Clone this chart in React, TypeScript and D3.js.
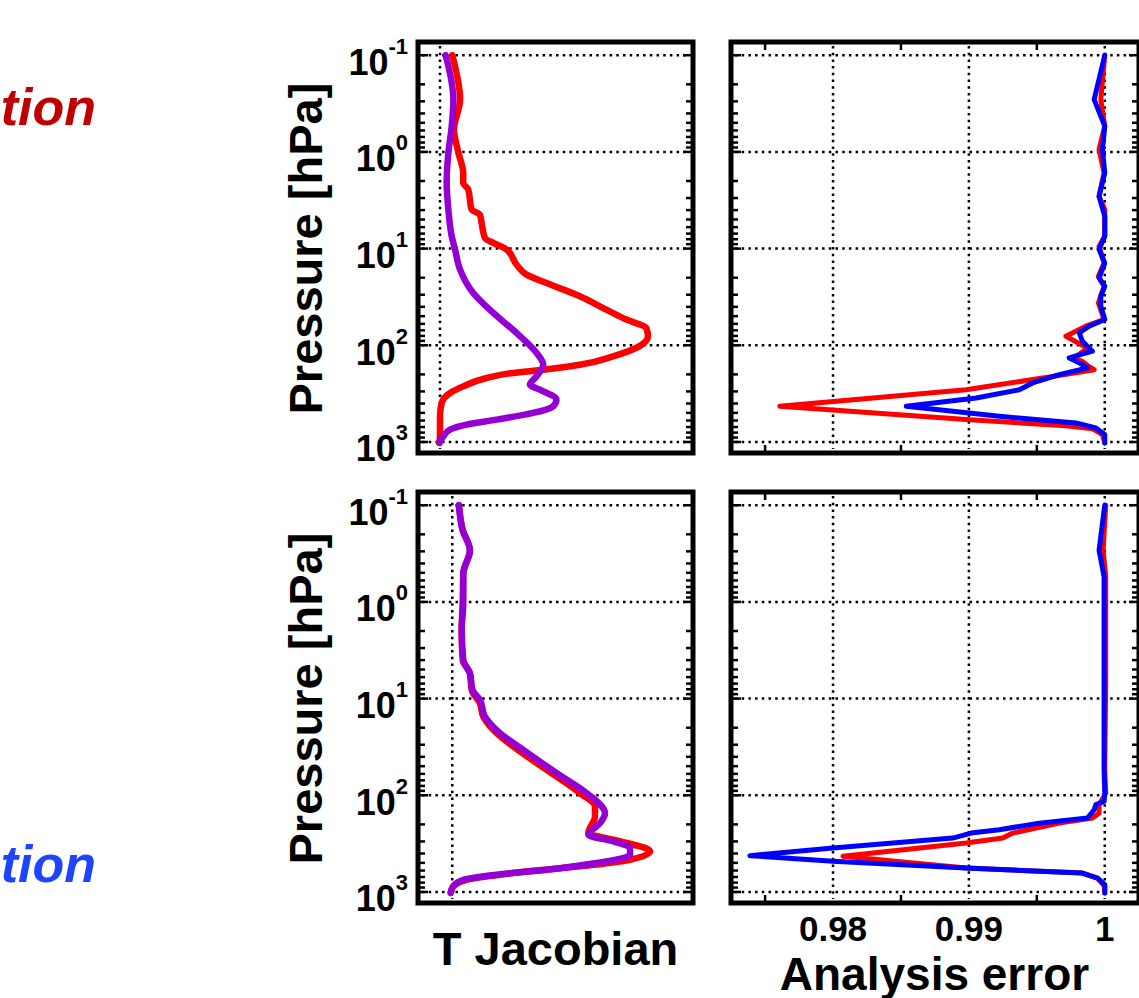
import React from 'react';
import * as d3 from 'd3';

// ---------- DATA ----------
// Top-left: T Jacobian (normalized), pressure in hPa
const jacTopRedP = [0.1, 0.288, 0.587, 1.02, 1.65, 2.09, 2.45, 3.95, 4.45, 5.42, 7.76, 8.74, 10.2, 14.6, 18.6, 22.7, 31.1, 42.8, 54.2, 66.2, 80.7, 102, 130, 159, 179, 193, 218, 266, 311, 395, 542, 839, 1020];
const jacTopRedV = [0.059, 0.096, 0.067, 0.088, 0.111, 0.111, 0.135, 0.151, 0.191, 0.199, 0.215, 0.255, 0.318, 0.366, 0.414, 0.51, 0.669, 0.796, 0.892, 0.987, 0.995, 0.955, 0.828, 0.669, 0.494, 0.35, 0.223, 0.111, 0.048, 0.008, 0.0, 0.0, -0.003];
const jacTopPurpleP = [0.1, 0.288, 0.542, 1.02, 2.09, 3.95, 7.45, 10.2, 16.5, 28.8, 46.3, 74.5, 120, 159, 209, 255, 288, 365, 428, 501, 587, 662, 745, 874, 1023];
const jacTopPurpleV = [0.027, 0.064, 0.056, 0.04, 0.032, 0.04, 0.056, 0.072, 0.096, 0.159, 0.255, 0.366, 0.462, 0.494, 0.462, 0.43, 0.478, 0.557, 0.541, 0.446, 0.271, 0.127, 0.048, 0.016, -0.003];

// Top-right: analysis error
const errTopRedP = [0.1, 0.288, 0.542, 0.946, 1.65, 2.88, 3.95, 7.45, 9.46, 14.1, 19.3, 24.5, 36.5, 54.2, 63.5, 80.7, 107, 135, 147, 162, 179, 213, 288, 428, 587, 678, 728, 839, 1023];
const errTopRedV = [1.0, 0.99971, 1.0, 0.99958, 0.99995, 0.99958, 1.0, 1.0, 0.99958, 0.99995, 0.99953, 0.99995, 0.99953, 0.99995, 0.9986, 0.99714, 0.99873, 0.99775, 0.99836, 0.99873, 0.99922, 0.99591, 0.98979, 0.97608, 0.98979, 0.99714, 0.99909, 0.99983, 1.0];
const errTopBlueP = [0.1, 0.288, 0.542, 0.946, 1.65, 2.88, 4.63, 7.45, 10.2, 14.1, 20.1, 24.5, 31.1, 39.5, 54.2, 63.5, 74.5, 91, 115, 135, 152, 171, 201, 245, 288, 351, 428, 542, 635, 716, 839, 1023];
const errTopBlueV = [1.0, 0.99922, 1.0, 0.99983, 1.0, 0.99958, 1.0, 1.0, 0.99958, 1.0, 0.99958, 1.0, 0.99971, 0.99971, 1.0, 0.99885, 0.99812, 0.99836, 0.99909, 0.99738, 0.99812, 0.99873, 0.99665, 0.99469, 0.99371, 0.99053, 0.98539, 0.99224, 0.99787, 0.99934, 1.0, 1.0];

// Bottom-left: T Jacobian
const jacBotRedP = [0.1, 0.181, 0.292, 0.508, 1.0, 1.95, 3.99, 5.47, 8.14, 11.2, 15.4, 21.1, 31.3, 54.6, 95, 130, 165, 246, 288, 380, 464, 543, 637, 747, 874, 1023];
const jacBotRedV = [0.033, 0.052, 0.088, 0.055, 0.052, 0.047, 0.052, 0.088, 0.097, 0.138, 0.155, 0.205, 0.304, 0.471, 0.637, 0.712, 0.712, 0.679, 0.804, 0.987, 0.887, 0.637, 0.304, 0.072, 0.005, -0.008];
const jacBotPurpleP = [0.1, 0.181, 0.292, 0.508, 1.0, 1.95, 3.99, 5.47, 8.14, 10.3, 15.4, 22.8, 33.9, 59, 95, 153, 194, 256, 300, 351, 411, 502, 588, 662, 747, 874, 1023];
const jacBotPurpleV = [0.033, 0.052, 0.088, 0.055, 0.055, 0.047, 0.055, 0.088, 0.101, 0.138, 0.163, 0.238, 0.354, 0.521, 0.671, 0.762, 0.737, 0.679, 0.804, 0.887, 0.887, 0.72, 0.471, 0.221, 0.055, 0.005, -0.008];

// Bottom-right: analysis error
const errBotRedP = [0.1, 0.292, 0.549, 6.41, 54.6, 95, 125, 153, 172, 194, 246, 277, 312, 428, 565, 637, 717, 874, 1023];
const errBotRedV = [1.00007, 0.99988, 1.00007, 1.00007, 1.0, 1.00007, 0.99958, 0.99958, 0.99909, 0.99665, 0.99322, 0.99249, 0.98979, 0.98073, 0.98979, 0.99836, 0.99946, 1.0, 1.0];
const errBotBlueP = [0.1, 0.292, 0.549, 6.41, 54.6, 95, 116, 125, 141, 172, 194, 227, 246, 277, 351, 421, 482, 565, 637, 717, 839, 1023];
const errBotBlueV = [1.0, 0.99958, 0.99995, 0.99995, 0.99995, 1.0, 0.99995, 0.99934, 0.99922, 0.99873, 0.99518, 0.99224, 0.99016, 0.98881, 0.98, 0.97388, 0.98, 0.98979, 0.99836, 0.99946, 1.0, 1.0];

const pressureTicks = [0.1, 1, 10, 100, 1000];
const pressureTickExp = ['-1', '0', '1', '2', '3'];
const errorTicks = [0.98, 0.99, 1.0];
const errorTickLabels = ['0.98', '0.99', '1'];
const errorMinorTicks = [0.975, 0.985, 0.995];

const sideLabels = ['tion', 'tion'];
const sideColors = ['#c00000', '#1f44ff'];

// ---------- LAYOUT ----------
const W = 1139;
const H = 998;
const FONT = '"Liberation Sans", Arial, Helvetica, sans-serif';
const rows = [{ top: 42, bottom: 453 }, { top: 492, bottom: 903 }];
const leftX = { l: 418, r: 693 };
const rightX = { l: 731, r: 1139 };
const pDomain: [number, number] = [0.073, 1300];
const leftDomains: [number, number][] = [[-0.1053, 1.2105], [-0.171, 1.201]];
const rightDomain: [number, number] = [0.97249, 1.00252];

const RED = '#ff0000';
const PURPLE = '#9400d3';
const BLUE = '#0000ff';

type Series = { p: number[]; v: number[]; color: string; width: number; smooth: boolean };

const leftSeries: Series[][] = [
  [
    { p: jacTopRedP, v: jacTopRedV, color: RED, width: 6.5, smooth: true },
    { p: jacTopPurpleP, v: jacTopPurpleV, color: PURPLE, width: 6.5, smooth: true },
  ],
  [
    { p: jacBotRedP, v: jacBotRedV, color: RED, width: 6.5, smooth: true },
    { p: jacBotPurpleP, v: jacBotPurpleV, color: PURPLE, width: 6.5, smooth: true },
  ],
];
const rightSeries: Series[][] = [
  [
    { p: errTopRedP, v: errTopRedV, color: RED, width: 5, smooth: false },
    { p: errTopBlueP, v: errTopBlueV, color: BLUE, width: 5, smooth: false },
  ],
  [
    { p: errBotRedP, v: errBotRedV, color: RED, width: 5, smooth: false },
    { p: errBotBlueP, v: errBotBlueV, color: BLUE, width: 5, smooth: false },
  ],
];

const minorPressures: number[] = [];
for (let e = -1; e < 3; e++) {
  for (let m = 2; m <= 9; m++) minorPressures.push(m * Math.pow(10, e));
}

function Panel({
  x0, x1, yTop, yBot, xDomain, series, vGrid, xMinor,
}: {
  x0: number; x1: number; yTop: number; yBot: number; xDomain: [number, number];
  series: Series[]; vGrid: number[]; xMinor: number[];
}) {
  const x = d3.scaleLinear().domain(xDomain).range([x0, x1]);
  const y = d3.scaleLog().domain(pDomain).range([yTop, yBot]);
  const dots = '2.5 4.2';
  return (
    <g>
      {pressureTicks.map((p) => (
        <line key={'hg' + p} x1={x0 + 4} x2={x1 - 4} y1={y(p)} y2={y(p)} stroke="#000" strokeWidth={2.5} strokeDasharray={dots} />
      ))}
      {vGrid.map((v) => (
        <line key={'vg' + v} x1={x(v)} x2={x(v)} y1={yTop + 4} y2={yBot - 4} stroke="#000" strokeWidth={2.5} strokeDasharray={dots} />
      ))}
      {minorPressures.map((p) => (
        <g key={'mt' + p}>
          <line x1={x0} x2={x0 + 7} y1={y(p)} y2={y(p)} stroke="#000" strokeWidth={2.5} />
          <line x1={x1 - 7} x2={x1} y1={y(p)} y2={y(p)} stroke="#000" strokeWidth={2.5} />
        </g>
      ))}
      {pressureTicks.map((p) => (
        <g key={'Mt' + p}>
          <line x1={x0} x2={x0 + 10} y1={y(p)} y2={y(p)} stroke="#000" strokeWidth={2.5} />
          <line x1={x1 - 10} x2={x1} y1={y(p)} y2={y(p)} stroke="#000" strokeWidth={2.5} />
        </g>
      ))}
      {xMinor.map((v) => (
        <g key={'xt' + v}>
          <line x1={x(v)} x2={x(v)} y1={yTop} y2={yTop + 8} stroke="#000" strokeWidth={2.5} />
          <line x1={x(v)} x2={x(v)} y1={yBot - 8} y2={yBot} stroke="#000" strokeWidth={2.5} />
        </g>
      ))}
      {series.map((s, i) => {
        const line = d3
          .line<[number, number]>()
          .x((d) => x(d[1]))
          .y((d) => y(d[0]))
          .curve(s.smooth ? d3.curveMonotoneY : d3.curveLinear);
        return (
          <path
            key={'s' + i}
            d={line(s.p.map((p, j) => [p, s.v[j]] as [number, number])) || ''}
            fill="none"
            stroke={s.color}
            strokeWidth={s.width}
            strokeLinejoin="round"
            strokeLinecap="round"
          />
        );
      })}
      <rect x={x0} y={yTop} width={x1 - x0} height={yBot - yTop} fill="none" stroke="#000" strokeWidth={5} />
    </g>
  );
}

export default function App() {
  return (
    <svg
      width={W}
      height={H}
      viewBox={`0 0 ${W} ${H}`}
      style={{ position: 'absolute', left: 0, top: 0, background: '#fff' }}
      fontFamily={FONT}
    >
      <rect x={0} y={0} width={W} height={H} fill="#fff" />
      {sideLabels.map((t, i) => (
        <text
          key={'side' + i}
          x={96}
          y={i === 0 ? 125 : 882}
          textAnchor="end"
          fontSize={52}
          fontWeight="bold"
          fontStyle="italic"
          fill={sideColors[i]}
        >
          {t}
        </text>
      ))}
      {rows.map((r, ri) => {
        const y = d3.scaleLog().domain(pDomain).range([r.top, r.bottom]);
        const mid = (y(0.1) + y(1000)) / 2;
        return (
          <g key={'row' + ri}>
            <Panel
              x0={leftX.l}
              x1={leftX.r}
              yTop={r.top}
              yBot={r.bottom}
              xDomain={leftDomains[ri]}
              series={leftSeries[ri]}
              vGrid={[0]}
              xMinor={[]}
            />
            <Panel
              x0={rightX.l}
              x1={rightX.r}
              yTop={r.top}
              yBot={r.bottom}
              xDomain={rightDomain}
              series={rightSeries[ri]}
              vGrid={errorTicks}
              xMinor={errorMinorTicks}
            />
            {pressureTicks.map((p, k) => (
              <text key={'yl' + k} x={408} y={y(p) + 19.5} textAnchor="end" fontWeight="bold" fill="#000">
                <tspan fontSize={36}>10</tspan>
                <tspan fontSize={22} dy={-21}>{pressureTickExp[k]}</tspan>
              </text>
            ))}
            <text
              transform={`translate(322,${mid}) rotate(-90)`}
              textAnchor="middle"
              fontSize={47}
              fontWeight="bold"
              fill="#000"
            >
              Pressure [hPa]
            </text>
          </g>
        );
      })}
      {(() => {
        const x = d3.scaleLinear().domain(rightDomain).range([rightX.l, rightX.r]);
        return errorTicks.map((v, k) => (
          <text key={'xl' + k} x={x(v)} y={941} textAnchor="middle" fontSize={35} fontWeight="bold" fill="#000">
            {errorTickLabels[k]}
          </text>
        ));
      })()}
      <text x={(leftX.l + leftX.r) / 2} y={965} textAnchor="middle" fontSize={47} fontWeight="bold" fill="#000">
        T Jacobian
      </text>
      <text x={(rightX.l + 1138) / 2} y={990} textAnchor="middle" fontSize={46} fontWeight="bold" fill="#000">
        Analysis error
      </text>
    </svg>
  );
}
